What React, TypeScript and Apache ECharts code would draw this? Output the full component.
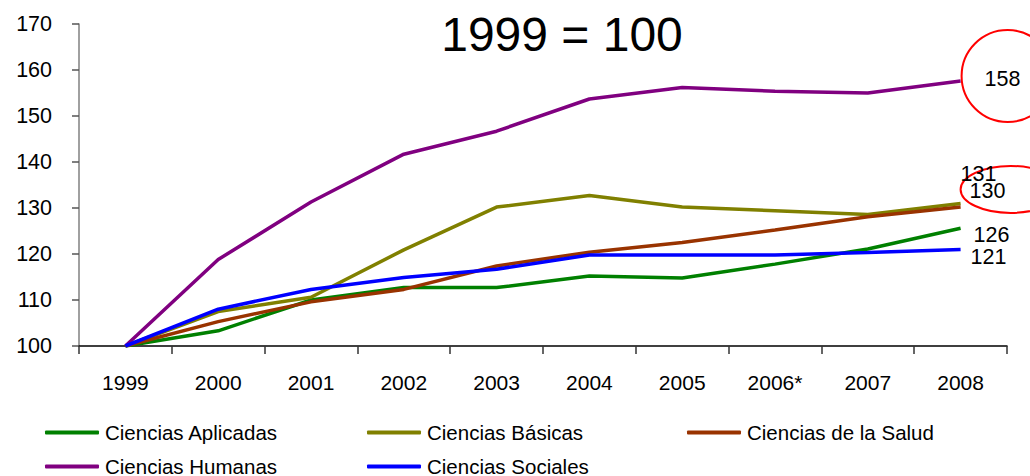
import React, { useEffect, useRef } from "react";
import * as echarts from "echarts";

const years = ["1999", "2000", "2001", "2002", "2003", "2004", "2005", "2006*", "2007", "2008"];
const aplicadas = [100, 103.3, 110.0, 112.7, 112.7, 115.2, 114.8, 117.8, 121.1, 125.6];
const basicas = [100, 107.5, 110.6, 120.9, 130.2, 132.7, 130.2, 129.4, 128.6, 131.0];
const salud = [100, 105.3, 109.6, 112.3, 117.4, 120.4, 122.5, 125.2, 128.1, 130.2];
const humanas = [100, 118.8, 131.3, 141.7, 146.7, 153.7, 156.2, 155.4, 155.0, 157.6];
const sociales = [100, 108.0, 112.3, 114.9, 116.7, 119.8, 119.8, 119.8, 120.3, 121.0];

const seriesDefs = [
  { name: "Ciencias Aplicadas", data: aplicadas, color: "#008000", offset: [13, 7] },
  { name: "Ciencias Básicas", data: basicas, color: "#808000", offset: [0, -29] },
  { name: "Ciencias de la Salud", data: salud, color: "#993300", offset: [9, -16] },
  { name: "Ciencias Humanas", data: humanas, color: "#800080", offset: [24, -2] },
  { name: "Ciencias Sociales", data: sociales, color: "#0000FF", offset: [10, 8] },
];

const legendPos = [
  { left: 45, top: 422 },
  { left: 367, top: 422 },
  { left: 687, top: 422 },
  { left: 45, top: 456 },
  { left: 367, top: 456 },
];

const FONT = "Liberation Sans, Arial, sans-serif";

export default function App() {
  const ref = useRef<HTMLDivElement>(null);
  useEffect(() => {
    if (!ref.current) return;
    const chart = echarts.init(ref.current, null, { renderer: "svg" });
    const option: any = {
      animation: false,
      backgroundColor: "#ffffff",
      textStyle: { fontFamily: FONT },
      title: {
        text: "1999 = 100",
        left: 557,
        top: 5,
        textAlign: "center",
        textStyle: { fontSize: 48, fontWeight: "normal", color: "#000", fontFamily: FONT },
      },
      grid: { left: 79, right: 23, top: 24, bottom: 130, containLabel: false },
      legend: seriesDefs.map((s, i) => ({
        data: [s.name],
        left: legendPos[i].left,
        top: legendPos[i].top,
        padding: 0,
        itemWidth: 54,
        itemHeight: 4,
        icon: "roundRect",
        itemGap: 0,
        textStyle: { fontSize: 20.5, color: "#000", fontFamily: FONT, padding: [0, 0, 0, 1] },
      })),
      xAxis: {
        type: "category",
        data: years,
        boundaryGap: true,
        axisLine: { show: true, lineStyle: { color: "#000", width: 1.5 } },
        axisTick: { show: true, alignWithLabel: false, length: 8, lineStyle: { color: "#333", width: 1.5 } },
        axisLabel: { fontSize: 21, color: "#000", margin: 26, fontFamily: FONT },
        splitLine: { show: false },
      },
      yAxis: {
        type: "value",
        min: 100,
        max: 170,
        interval: 10,
        axisLine: { show: true, lineStyle: { color: "#808080", width: 1.5 } },
        axisTick: { show: true, length: 7, lineStyle: { color: "#555", width: 1.5 } },
        axisLabel: { fontSize: 21.5, color: "#000", margin: 27, fontFamily: FONT },
        splitLine: { show: false },
      },
      series: seriesDefs.map((s) => ({
        name: s.name,
        type: "line",
        symbol: "none",
        color: s.color,
        lineStyle: { width: 3.5, color: s.color },
        data: s.data,
        endLabel: {
          show: true,
          distance: 0,
          offset: s.offset,
          formatter: (p: any) => String(Math.round(p.value)),
          fontSize: 21.5,
          color: "#000",
          fontFamily: FONT,
        },
      })),
    };
    chart.setOption(option);

    const last = years.length - 1;
    const pH = chart.convertToPixel({ xAxisIndex: 0, yAxisIndex: 0 }, [last, humanas[last]]) as number[];
    const pB = chart.convertToPixel({ xAxisIndex: 0, yAxisIndex: 0 }, [last, basicas[last]]) as number[];
    chart.setOption({
      graphic: [
        {
          type: "ellipse",
          shape: { cx: pH[0] + 47, cy: pH[1] - 5, rx: 46, ry: 46 },
          style: { fill: "none", stroke: "#FF0000", lineWidth: 2 },
          silent: true,
        },
        {
          type: "ellipse",
          shape: { cx: pB[0] + 50, cy: pB[1] - 14, rx: 50, ry: 23.5 },
          style: { fill: "none", stroke: "#FF0000", lineWidth: 2 },
          silent: true,
        },
      ],
    });

    return () => chart.dispose();
  }, []);
  return <div ref={ref} style={{ width: 1030, height: 476, position: "absolute", left: 0, top: 0 }} />;
}
